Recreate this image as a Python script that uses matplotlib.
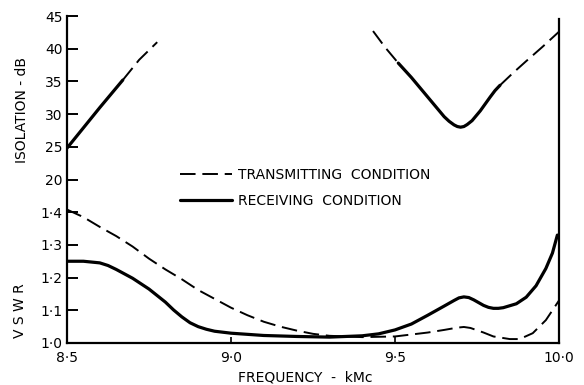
import numpy as np
import matplotlib
matplotlib.use("Agg")
import matplotlib.pyplot as plt

# isolation (dB) -- left branch
iso_l_solid_f = [8.50, 8.55, 8.60, 8.67]
iso_l_solid_db = [24.8, 27.9, 31.0, 35.2]
iso_l_dash_f = [8.67, 8.72, 8.775]
iso_l_dash_db = [35.2, 38.3, 41.0]

# isolation (dB) -- right branch
iso_r_dash1_f = [9.433, 9.47, 9.51]
iso_r_dash1_db = [42.7, 40.2, 37.8]
iso_r_solid_f = [9.51, 9.55, 9.60, 9.65, 9.665, 9.68, 9.69, 9.70, 9.71, 9.72, 9.735,
                 9.76, 9.79, 9.805, 9.82]
iso_r_solid_db = [37.8, 35.6, 32.6, 29.6, 28.9, 28.35, 28.1, 28.0, 28.1, 28.4, 29.0,
                  30.5, 32.6, 33.6, 34.4]
iso_r_dash2_f = [9.82, 9.86, 9.90, 9.95, 10.0]
iso_r_dash2_db = [34.4, 36.3, 38.1, 40.3, 42.6]

# VSWR
freq_rx = [8.50, 8.55, 8.60, 8.625, 8.65, 8.70, 8.75, 8.80, 8.825, 8.85, 8.875, 8.90,
           8.925, 8.95, 9.00, 9.10, 9.20, 9.30, 9.40, 9.45, 9.50, 9.55, 9.60, 9.65,
           9.68, 9.695, 9.71, 9.725, 9.74, 9.77, 9.785, 9.80, 9.815, 9.83, 9.87, 9.90,
           9.93, 9.96, 9.98, 9.995]
vswr_rx = [1.250, 1.250, 1.245, 1.237, 1.225, 1.198, 1.165, 1.125, 1.101, 1.080, 1.062, 1.050,
           1.042, 1.036, 1.030, 1.023, 1.020, 1.018, 1.022, 1.028, 1.040, 1.058, 1.085, 1.113,
           1.130, 1.138, 1.141, 1.139, 1.132, 1.115, 1.109, 1.106, 1.106, 1.108, 1.120, 1.140,
           1.175, 1.228, 1.275, 1.330]

freq_tx = [8.50, 8.55, 8.60, 8.65, 8.70, 8.75, 8.80, 8.85, 8.90, 8.95, 9.00, 9.05,
           9.10, 9.15, 9.20, 9.25, 9.30, 9.40, 9.50, 9.60, 9.65, 9.69, 9.71, 9.73,
           9.77, 9.80, 9.85, 9.88, 9.92, 9.96, 10.0]
vswr_tx = [1.408, 1.385, 1.355, 1.327, 1.295, 1.258, 1.225, 1.195, 1.162, 1.135, 1.108, 1.085,
           1.065, 1.050, 1.038, 1.028, 1.022, 1.018, 1.020, 1.032, 1.040, 1.047, 1.049, 1.046,
           1.032, 1.020, 1.012, 1.012, 1.030, 1.070, 1.130]

x_ticks = [9.0, 9.5]
x_ticklabels = ["9\u00b70", "9\u00b75"]
vswr_ticks = [1.0, 1.1, 1.2, 1.3, 1.4]
iso_ticks = [20, 25, 30, 35, 40, 45]


def u_vswr(v):
    return (np.asarray(v) - 1.0) * 10


def u_iso(db):
    return 5 + (np.asarray(db) - 20) / 5


SOLID = dict(color="black", lw=2.3, solid_capstyle="round", solid_joinstyle="round")
DASH = dict(color="black", lw=1.4, linestyle=(0, (8, 3.5)))

fig = plt.figure(figsize=(5.84, 3.85), dpi=100)
ax = fig.add_axes([67 / 584, 1 - 343 / 385, 492 / 584, 327 / 385])

ax.plot(iso_l_solid_f, u_iso(iso_l_solid_db), **SOLID)
ax.plot(iso_l_dash_f, u_iso(iso_l_dash_db), **DASH)
ax.plot(iso_r_dash1_f, u_iso(iso_r_dash1_db), **DASH)
ax.plot(iso_r_solid_f, u_iso(iso_r_solid_db), **SOLID)
ax.plot(iso_r_dash2_f, u_iso(iso_r_dash2_db), **DASH)

ax.plot(freq_tx, u_vswr(vswr_tx), label="TRANSMITTING  CONDITION", **DASH)
ax.plot(freq_rx, u_vswr(vswr_rx), label="RECEIVING  CONDITION", **SOLID)

ax.set_xlim(8.5, 10.0)
ax.set_ylim(0, 10)

ax.spines["top"].set_visible(False)
for s in ["left", "right", "bottom"]:
    ax.spines[s].set_linewidth(1.6)
ax.spines["right"].set_bounds(0, 9.9)

ax.set_xticks(x_ticks)
ax.set_xticklabels(x_ticklabels)
yt = list(u_vswr(vswr_ticks)) + list(u_iso(iso_ticks))
ylabels = [f"{v:.1f}".replace(".", "\u00b7") for v in vswr_ticks] + [str(d) for d in iso_ticks]
ax.set_yticks(yt)
ax.set_yticklabels(ylabels)
ax.tick_params(axis="y", direction="in", length=8, width=1.4, pad=3, labelsize=10)
ax.tick_params(axis="x", direction="in", length=4.5, width=1.2, pad=6, labelsize=10)

# end labels of the frequency axis
ax.text(8.5, -0.25, "8\u00b75", ha="center", va="top", fontsize=10)
ax.text(10.0, -0.25, "10\u00b70", ha="center", va="top", fontsize=10)

ax.text(-0.092, 0.713, "ISOLATION - dB", transform=ax.transAxes, rotation=90,
        ha="center", va="center", fontsize=10)
ax.text(-0.096, 0.10, "V S W R", transform=ax.transAxes, rotation=90,
        ha="center", va="center", fontsize=10)
ax.text(0.484, -0.107, "FREQUENCY  -  kMc", transform=ax.transAxes,
        ha="center", va="center", fontsize=10)

ax.legend(loc="upper left", bbox_to_anchor=(0.23, 0.535), frameon=False,
          handlelength=3.7, handletextpad=0.5, labelspacing=0.85,
          borderpad=0, borderaxespad=0, fontsize=10)

fig.savefig("out.png", dpi=100)
